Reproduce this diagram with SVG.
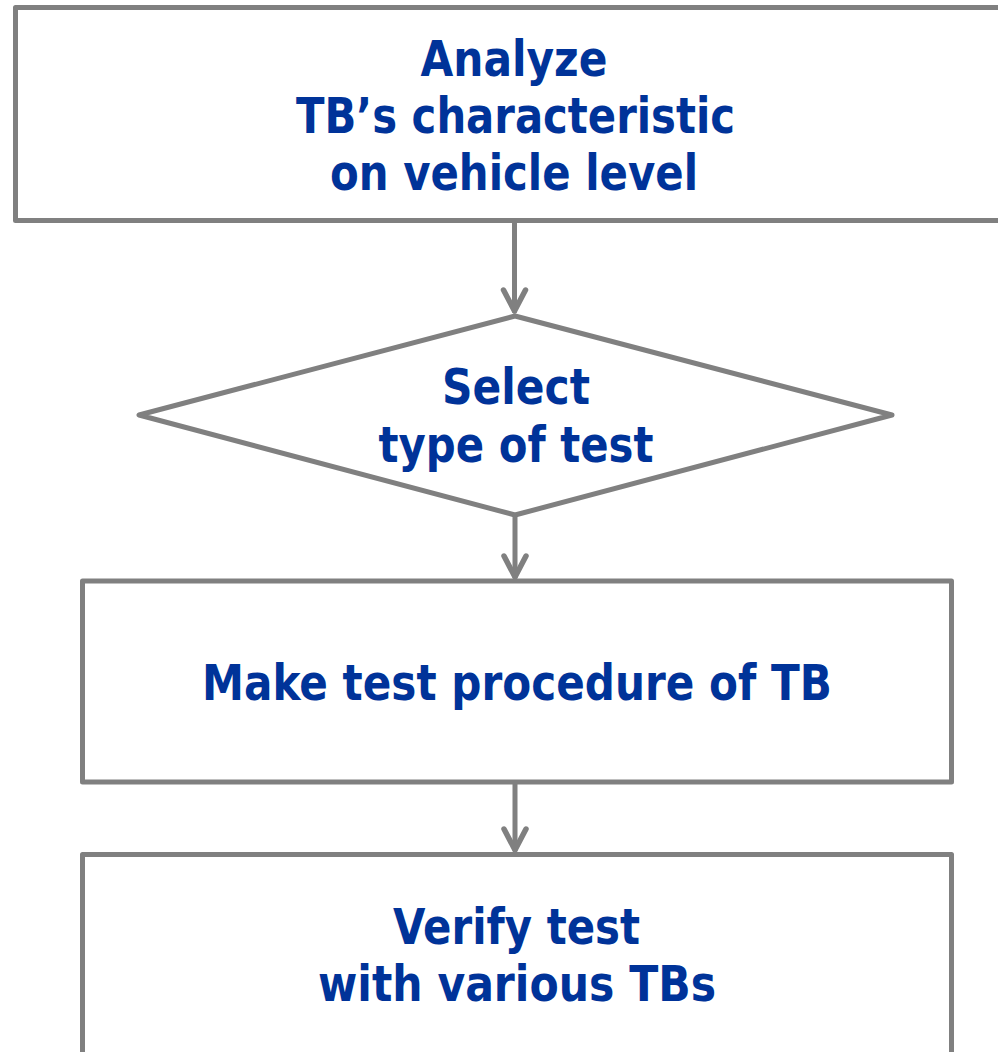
<svg xmlns="http://www.w3.org/2000/svg" width="998" height="1052" viewBox="0 0 998 1052">
<style>
.shape{fill:#ffffff;stroke:#808080;stroke-width:5;stroke-linejoin:round}
.conn{fill:none;stroke:#808080;stroke-width:5;stroke-linecap:round}
.lbl{font-family:"DejaVu Sans","Liberation Sans",sans-serif;font-weight:bold;font-size:49px;fill:#003399;text-anchor:middle}
</style>
<defs>
<marker id="arr" markerUnits="userSpaceOnUse" orient="auto" viewBox="-28 -18 32 36" refX="0" refY="0" markerWidth="32" markerHeight="36">
<path d="M-21,-11 L0,0 L-21,11" fill="none" stroke="#808080" stroke-width="5.5" stroke-linecap="round" stroke-linejoin="round"/>
</marker>
</defs>
<g id="connectors">
<line class="conn" x1="514.5" y1="221" x2="514.5" y2="311" marker-end="url(#arr)"/>
<line class="conn" x1="515" y1="516" x2="515" y2="577" marker-end="url(#arr)"/>
<line class="conn" x1="515" y1="782" x2="515" y2="850" marker-end="url(#arr)"/>
</g>
<g id="analyze">
<rect class="shape" x="15.5" y="7.5" width="1000" height="213"/>
<text class="lbl" x="514" y="76" textLength="187" lengthAdjust="spacingAndGlyphs">Analyze</text>
<text class="lbl" x="515.5" y="133" textLength="439" lengthAdjust="spacingAndGlyphs">TB’s characteristic</text>
<text class="lbl" x="514" y="190" textLength="368" lengthAdjust="spacingAndGlyphs">on vehicle level</text>
</g>
<g id="select">
<polygon class="shape" points="515,316 892,415 515,515 139,415"/>
<text class="lbl" x="516" y="404" textLength="148" lengthAdjust="spacingAndGlyphs">Select</text>
<text class="lbl" x="516" y="462" textLength="275" lengthAdjust="spacingAndGlyphs">type of test</text>
</g>
<g id="make">
<rect class="shape" x="82.5" y="581" width="869" height="201"/>
<text class="lbl" x="517" y="700" textLength="630" lengthAdjust="spacingAndGlyphs">Make test procedure of TB</text>
</g>
<g id="verify">
<rect class="shape" x="82.5" y="854.5" width="869" height="260"/>
<text class="lbl" x="516.5" y="944" textLength="247" lengthAdjust="spacingAndGlyphs">Verify test</text>
<text class="lbl" x="517" y="1001" textLength="398" lengthAdjust="spacingAndGlyphs">with various TBs</text>
</g>
</svg>
